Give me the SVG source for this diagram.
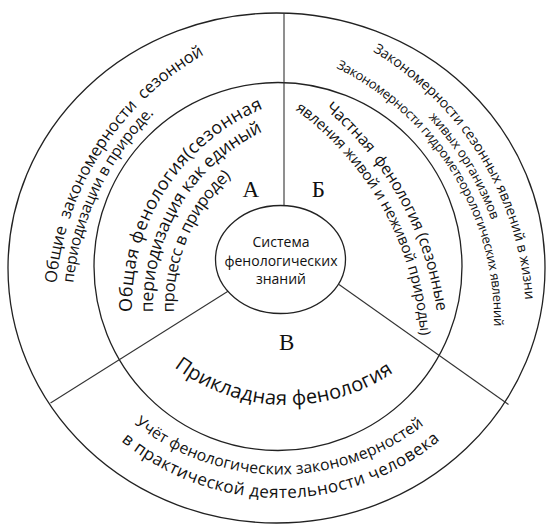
<svg xmlns="http://www.w3.org/2000/svg" width="546" height="524" viewBox="0 0 546 524">
<style>
.ring{fill:none;stroke:#222;stroke-width:1.3}
.div{stroke:#333;stroke-width:1.1;fill:none}
.t{font-family:"Open Sans","Noto Sans","DejaVu Sans",sans-serif;fill:#111;white-space:pre}
.lbl{font-family:"Liberation Serif","Times New Roman",serif;font-size:23px;fill:#111;text-anchor:middle}
.c{font-family:"Open Sans","Noto Sans",sans-serif;font-size:14px;fill:#111;text-anchor:middle}
</style>
<defs>
<path id="pL1" d="M52.3,282.9 A299,299 0 0 1 202.3,51.0"/>
<path id="pL2" d="M69.4,282.5 A282,282 0 0 1 151.6,110.6"/>
<path id="pM1" d="M127.1,311.9 A218,218 0 0 1 260.9,103.9"/>
<path id="pM2" d="M148.1,312.2 A197,197 0 0 1 260.2,127.2"/>
<path id="pM3" d="M170.2,312.3 A175,175 0 0 1 228.8,174.1"/>
<path id="pR1" d="M374.8,47.9 A318,318 0 0 1 529.3,299.9"/>
<path id="pR2" d="M431.1,114.6 A301,301 0 0 1 495.2,219.0"/>
<path id="pR3" d="M337.4,65.1 A285,285 0 0 1 497.0,326.0"/>
<path id="pR4" d="M327.7,106.0 A328,328 0 0 1 440.8,310.9"/>
<path id="pR5" d="M297.6,106.5 A309,309 0 0 1 424.3,334.9"/>
<path id="pB1" d="M177.1,363.1 A183.4,183.4 0 0 0 391.1,367.9"/>
<path id="pB2" d="M136.8,420.5 A230,230 0 0 0 421.6,421.7"/>
<path id="pB3" d="M124.2,437.1 A245,245 0 0 0 436.5,436.5"/>
</defs>
<rect width="546" height="524" fill="#fff"/>
<g id="rings">
<ellipse class="ring" cx="276.5" cy="268" rx="268.5" ry="255"/>
<circle class="ring" cx="278" cy="266.5" r="184"/>
</g>
<g id="connectors">
<line class="div" x1="284" y1="13.2" x2="284" y2="205.5"/>
<line class="div" x1="228" y1="291.3" x2="50.5" y2="403"/>
<line class="div" x1="339" y1="284.5" x2="508.5" y2="404.5"/>
</g>
<g id="center">
<ellipse class="ring" cx="280.5" cy="259.5" rx="65" ry="54"/>
<text class="c" x="281" y="246.5">Система</text>
<text class="c" x="281" y="265.5">фенологических</text>
<text class="c" x="281" y="283.5">знаний</text>
</g>
<g id="sector-a">
<text class="lbl" x="250.7" y="196.5">А</text>
<text class="t" font-size="16.5" dominant-baseline="middle"><textPath href="#pL1" textLength="287">Общие  закономерности  сезонной</textPath></text>
<text class="t" font-size="15.5" dominant-baseline="middle"><textPath href="#pL2" textLength="194">периодизации в природе.</textPath></text>
<text class="t" font-size="18" dominant-baseline="middle"><textPath href="#pM1" textLength="263">Общая фенология(сезонная</textPath></text>
<text class="t" font-size="17.5" dominant-baseline="middle"><textPath href="#pM2" textLength="229">периодизация как единый</textPath></text>
<text class="t" font-size="16.5" dominant-baseline="middle"><textPath href="#pM3" textLength="155">процесс в природе)</textPath></text>
</g>
<g id="sector-b">
<text class="lbl" x="318.3" y="196.5">Б</text>
<text class="t" font-size="14" dominant-baseline="middle"><textPath href="#pR1" textLength="307">Закономерности сезонных явлений в жизни</textPath></text>
<text class="t" font-size="13.2" dominant-baseline="middle"><textPath href="#pR2" textLength="123">живых организмов</textPath></text>
<text class="t" font-size="13" dominant-baseline="middle"><textPath href="#pR3" textLength="323">Закономерности гидрометеорологических явлений</textPath></text>
<text class="t" font-size="16" dominant-baseline="middle"><textPath href="#pR4" textLength="239">Частная  фенология (сезонные</textPath></text>
<text class="t" font-size="15" dominant-baseline="middle"><textPath href="#pR5" textLength="270">явления живой и неживой природы)</textPath></text>
</g>
<g id="sector-c">
<text class="lbl" x="286.7" y="349.5">В</text>
<text class="t" font-size="20" dominant-baseline="middle"><textPath href="#pB1" textLength="228">Прикладная фенология</textPath></text>
<text class="t" font-size="15.8" dominant-baseline="middle"><textPath href="#pB2" textLength="307">Учёт фенологических закономерностей</textPath></text>
<text class="t" font-size="17" dominant-baseline="middle"><textPath href="#pB3" textLength="339">в практической деятельности человека</textPath></text>
</g>
</svg>
